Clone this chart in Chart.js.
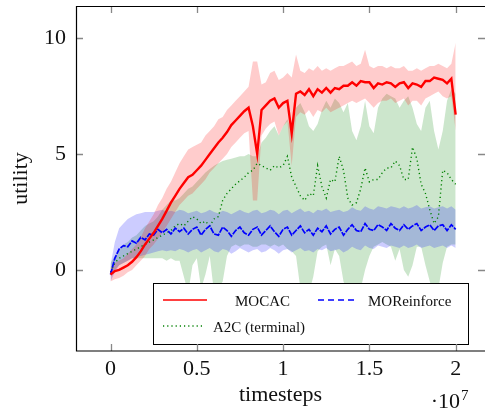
<!DOCTYPE html>
<html><head><meta charset="utf-8">
<script src="https://cdn.jsdelivr.net/npm/chart.js@4"></script>
<style>html,body{margin:0;padding:0;background:#fff;overflow:hidden}#wrap{width:485px;height:410px;position:relative}</style>
</head><body><div id="wrap"><canvas id="c" width="485" height="410"></canvas></div>
<script>
// x positions in millions of timesteps
const timestepsM = [0,0.25,0.5,0.75,1,1.25,1.5,1.75,2,2.25,2.5,2.75,3,3.25,3.5,3.75,4,4.25,4.5,4.75,5,5.25,5.5,5.75,6,6.25,6.5,6.75,7,7.25,7.5,7.75,8,8.25,8.5,8.75,9,9.25,9.5,9.75,10,10.25,10.5,10.75,11,11.25,11.5,11.75,12,12.25,12.5,12.75,13,13.25,13.5,13.75,14,14.25,14.5,14.75,15,15.25,15.5,15.75,16,16.25,16.5,16.75,17,17.25,17.5,17.75,18,18.25,18.5,18.75,19,19.25,19.5,19.75,20];

const seriesNames = ['MOCAC','MOReinforce','A2C (terminal)'];

const mocacMean = [-0.2,-0.05,0.0,0.1,0.2,0.35,0.55,0.8,1.1,1.35, 1.6,1.9,2.2,2.55,2.9,3.2,3.5,3.75,4.0,4.1, 4.3,4.5,4.75,5.0,5.25,5.5,5.7,5.95,6.25,6.45, 6.65,6.85,7.0,6.2,5.0,6.9,7.1,7.3,7.4,7.0, 7.2,7.3,5.9,7.6,7.7,7.55,7.8,7.5,7.8,7.65, 7.85,7.65,7.85,7.8,7.95,7.95,8.1,7.95,8.15,8.1, 8.1,7.85,8.05,8.0,8.1,8.05,7.9,8.05,8.1,7.85, 8.05,8.0,7.9,8.15,8.15,8.3,8.25,8.2,8.05,8.25, 6.7];
const mocacUpper = [0.1,0.3,0.4,0.5,0.7,0.9,1.1,1.4,1.8,2.1, 2.4,2.8,3.1,3.5,3.8,4.2,4.6,4.9,5.2,5.3, 5.4,5.5,5.8,6.0,6.2,6.5,6.6,6.9,7.1,7.3, 7.5,7.7,7.9,9.0,9.0,8.0,8.1,8.5,8.6,8.2, 8.3,8.5,8.3,9.3,8.6,8.5,8.7,8.6,8.8,8.6, 8.7,8.6,8.7,8.8,8.8,8.9,9.0,8.8,8.9,9.5, 8.8,8.7,8.8,8.8,8.7,8.8,8.7,8.7,8.8,8.6, 8.6,8.7,8.6,8.7,8.8,8.8,8.9,8.8,8.7,8.9, 9.8];
const mocacLower = [-0.5,-0.4,-0.35,-0.25,-0.1,0.0,0.2,0.4,0.6,0.9, 1.1,1.35,1.6,1.9,2.2,2.5,2.8,3.0,3.2,3.3, 3.5,3.7,3.9,4.2,4.4,4.6,4.8,5.0,5.3,5.5, 5.7,5.9,6.0,3.0,3.0,5.8,6.1,6.3,6.4,5.8, 6.2,6.4,4.5,6.6,6.8,6.7,6.9,6.6,6.9,6.8, 7.0,6.8,6.9,7.0,7.1,7.2,7.3,7.2,7.3,7.4, 7.2,7.0,7.2,7.3,7.3,7.4,7.2,7.3,7.4,7.1, 7.3,7.3,7.1,7.4,7.5,7.6,7.7,7.5,7.4,7.5, 6.0];

const moreinMean = [-0.2,0.5,0.9,1.05,1.0,1.25,1.15,1.4,1.3,1.55, 1.5,1.75,1.6,1.75,1.55,1.8,1.65,1.8,1.55,1.75, 1.85,1.5,1.75,1.9,1.55,1.5,1.85,1.7,1.45,1.7, 1.85,1.6,1.5,1.75,1.85,1.5,1.7,1.9,1.65,1.45, 1.75,1.85,1.5,1.7,1.9,1.6,1.75,1.5,1.8,1.65, 1.9,1.55,1.75,1.85,1.5,1.75,1.95,1.7,1.65,2.0, 1.75,1.7,1.95,1.85,1.7,2.0,1.8,1.7,1.95,1.75, 1.9,2.0,1.7,1.85,1.95,1.7,1.9,1.95,1.7,1.95, 1.75];
const moreinUpper = [0.2,1.2,1.8,2.0,2.2,2.3,2.4,2.45,2.5,2.5, 2.5,2.55,2.6,2.5,2.55,2.5,2.6,2.55,2.45,2.5, 2.55,2.45,2.5,2.6,2.5,2.45,2.55,2.5,2.4,2.5, 2.6,2.5,2.45,2.55,2.6,2.45,2.5,2.6,2.55,2.4, 2.55,2.6,2.45,2.55,2.65,2.5,2.55,2.45,2.6,2.55, 2.65,2.5,2.55,2.6,2.5,2.55,2.7,2.6,2.55,2.75, 2.65,2.6,2.75,2.7,2.65,2.75,2.7,2.65,2.75,2.65, 2.7,2.8,2.65,2.7,2.75,2.65,2.7,2.75,2.65,2.75, 2.6];
const moreinLower = [-0.5,-0.1,0.2,0.3,0.4,0.5,0.55,0.6,0.65,0.7, 0.75,0.8,0.85,0.8,0.85,0.8,0.9,0.85,0.75,0.85, 0.9,0.75,0.85,0.95,0.8,0.75,0.9,0.85,0.7,0.8, 0.95,0.85,0.75,0.85,0.9,0.75,0.8,0.95,0.85,0.7, 0.85,0.9,0.75,0.85,0.95,0.8,0.85,0.75,0.9,0.85, 0.95,0.8,0.85,0.9,0.75,0.85,1.0,0.9,0.85,1.05, 0.95,0.9,1.05,1.0,0.95,1.05,1.0,0.95,1.05,0.95, 1.0,1.1,0.95,1.0,1.05,0.95,1.0,1.05,0.95,1.05, 0.95];

const a2cMean = [-0.1,0.3,0.5,0.6,0.7,0.8,0.9,1.0,1.1,1.2, 1.3,1.4,1.5,1.6,1.7,1.9,2.0,1.9,2.1,2.3, 2.2,2.0,2.1,1.9,2.2,2.3,3.0,3.3,3.5,3.7, 3.85,4.0,4.2,4.3,4.6,4.5,4.4,4.3,4.5,4.4, 4.5,4.9,4.0,3.6,3.2,3.0,3.3,3.2,4.5,3.6, 3.1,3.9,3.8,4.9,4.3,3.1,2.8,2.9,3.5,4.4, 3.8,3.9,3.9,4.2,4.4,4.4,4.7,4.5,3.9,3.9, 5.3,4.8,3.7,3.3,2.6,2.0,2.3,4.3,4.2,3.9, 3.7];
const a2cUpper = [0.3,0.6,0.9,1.1,1.2,1.4,1.5,1.7,1.9,2.0, 2.1,2.3,2.6,2.8,3.0,3.0,3.1,3.3,3.5,3.6, 3.8,4.0,4.2,4.35,4.5,4.6,4.7,4.75,4.8,4.85, 4.9,4.9,5.0,4.9,4.9,5.5,5.7,6.0,6.2,5.8, 6.2,6.5,6.0,7.0,7.2,6.8,6.2,6.0,6.3,6.9, 7.3,7.0,7.4,7.2,6.8,7.2,6.0,5.6,6.2,7.3, 6.2,5.9,7.0,7.4,7.6,7.5,7.4,7.0,7.3,7.5, 7.0,6.3,6.0,7.0,7.3,6.0,5.2,6.0,7.3,7.8, 7.6];
const a2cLower = [-0.3,0.0,0.2,0.3,0.4,0.5,0.5,0.5,0.5,0.5, 0.5,0.5,0.5,0.4,0.5,0.4,0.4,-0.3,-1.0,0.2, 0.5,-0.8,-0.2,0.6,-1.0,-0.8,-0.5,0.6,1.0,1.1, 1.0,1.1,1.1,1.0,1.0,1.1,1.1,1.0,1.1,1.0, 1.1,0.9,0.8,0.6,-0.8,-1.2,-1.0,-0.3,0.8,1.0, 1.1,0.2,0.9,0.6,-0.5,-1.0,-1.2,-1.0,-0.8,0.0, 0.6,1.0,1.1,1.2,1.1,1.0,0.4,0.9,0.0,-0.3, 0.2,1.0,1.0,0.2,-0.5,-1.0,-0.8,0.3,1.0,1.1, 1.1];

const xTickValues = [0, 5e6, 1e7, 1.5e7, 2e7];
const xTickLabels = ['0', '0.5', '1', '1.5', '2'];
const yTickValues = [0, 5, 10];
const yTickLabels = ['0', '5', '10'];

const FONT = "'Liberation Serif', 'DejaVu Serif', serif";

function pts(ys) { return ys.map((y, i) => ({ x: timestepsM[i] * 1e6, y: y })); }

function band(data, color, fill) {
  return { data: pts(data), borderWidth: 0, borderColor: 'rgba(0,0,0,0)', backgroundColor: color, fill: fill, pointRadius: 0 };
}

const decor = {
  id: 'decor',
  afterDatasetsDraw(chart) {
    const ctx = chart.ctx;
    ctx.save();
    ctx.fillStyle = '#fff';
    ctx.fillRect(153.5, 283.5, 315, 61);
    ctx.strokeStyle = '#000';
    ctx.lineWidth = 1;
    ctx.strokeRect(153.5, 283.5, 315, 61);
    ctx.lineWidth = 1.3;
    ctx.strokeStyle = '#ff0000';
    ctx.beginPath(); ctx.moveTo(163, 300); ctx.lineTo(207, 300); ctx.stroke();
    ctx.strokeStyle = '#0000ff';
    ctx.setLineDash([6, 4]);
    ctx.beginPath(); ctx.moveTo(318, 300); ctx.lineTo(357, 300); ctx.stroke();
    ctx.strokeStyle = '#008000';
    ctx.setLineDash([1.2, 3]);
    ctx.beginPath(); ctx.moveTo(163, 326); ctx.lineTo(204, 326); ctx.stroke();
    ctx.setLineDash([]);
    ctx.fillStyle = '#111';
    ctx.font = '15px ' + FONT;
    ctx.textBaseline = 'alphabetic';
    ctx.textAlign = 'left';
    ctx.fillText(seriesNames[0], 235, 306);
    ctx.fillText(seriesNames[1], 368, 306);
    ctx.fillText(seriesNames[2], 213, 332);
    ctx.restore();
  },
  afterDraw(chart) {
    const ctx = chart.ctx;
    const a = chart.chartArea;
    const xs = chart.scales.x, ys = chart.scales.y;
    ctx.save();
    ctx.strokeStyle = '#888';
    ctx.lineWidth = 1.3;
    xTickValues.forEach(v => {
      const p = Math.round(xs.getPixelForValue(v)) + 0.5;
      ctx.beginPath();
      ctx.moveTo(p, a.bottom); ctx.lineTo(p, a.bottom - 7);
      ctx.moveTo(p, a.top); ctx.lineTo(p, a.top + 7);
      ctx.stroke();
    });
    yTickValues.forEach(v => {
      const p = Math.round(ys.getPixelForValue(v)) + 0.5;
      ctx.beginPath();
      ctx.moveTo(a.left, p); ctx.lineTo(a.left + 7, p);
      ctx.moveTo(a.right, p); ctx.lineTo(a.right - 7, p);
      ctx.stroke();
    });
    ctx.strokeStyle = '#000';
    ctx.lineWidth = 1.2;
    ctx.beginPath();
    ctx.moveTo(a.right + 2, a.top + 0.5); ctx.lineTo(a.left + 0.5, a.top + 0.5);
    ctx.lineTo(a.left + 0.5, a.bottom); ctx.lineTo(a.right + 2, a.bottom);
    ctx.stroke();
    ctx.fillStyle = '#111';
    ctx.textBaseline = 'alphabetic';
    ctx.textAlign = 'right';
    ctx.font = '22px ' + FONT;
    ctx.fillText('\u00b710', 460, 408);
    ctx.textAlign = 'left';
    ctx.font = '15px ' + FONT;
    ctx.fillText('7', 461, 400);
    ctx.restore();
  }
};

new Chart(document.getElementById('c'), {
  type: 'line',
  data: {
    datasets: [
      { label: seriesNames[0], data: pts(mocacMean), borderColor: '#ff0000', borderWidth: 2.4, pointRadius: 0, fill: false },
      { label: seriesNames[1], data: pts(moreinMean), borderColor: '#0000ff', borderWidth: 1.7, borderDash: [6, 1.2], pointRadius: 0, fill: false },
      { label: seriesNames[2], data: pts(a2cMean), borderColor: '#008000', borderWidth: 1.4, borderDash: [1.2, 3], pointRadius: 0, fill: false },
      band(mocacUpper, 'rgba(255,0,0,0.2)', '+1'),
      band(mocacLower, 'rgba(0,0,0,0)', false),
      band(moreinUpper, 'rgba(0,0,255,0.2)', '+1'),
      band(moreinLower, 'rgba(0,0,0,0)', false),
      band(a2cUpper, 'rgba(0,128,0,0.2)', '+1'),
      band(a2cLower, 'rgba(0,0,0,0)', false)
    ]
  },
  options: {
    responsive: false,
    animation: false,
    devicePixelRatio: 1,
    layout: { padding: { top: 6, right: 0, left: 0, bottom: 0 } },
    elements: { line: { tension: 0 } },
    plugins: { legend: { display: false }, tooltip: { enabled: false } },
    scales: {
      x: {
        type: 'linear',
        min: -2e6,
        max: 2.17e7,
        grid: { display: false, drawTicks: false },
        border: { display: false },
        afterBuildTicks: s => { s.ticks = xTickValues.map(v => ({ value: v })); },
        afterFit: s => { s.height = 59; s.paddingLeft = 0; s.paddingRight = 0; },
        ticks: {
          autoSkip: false, maxRotation: 0,
          callback: (v) => xTickLabels[xTickValues.indexOf(v)],
          font: { family: FONT, size: 22 }, color: '#111', padding: 5
        },
        title: { display: true, text: 'timesteps', font: { family: FONT, size: 22 }, color: '#111', padding: { top: 0, bottom: 2 } }
      },
      y: {
        type: 'linear',
        min: -3.5,
        max: 11.39,
        grid: { display: false, drawTicks: false },
        border: { display: false },
        afterBuildTicks: s => { s.ticks = yTickValues.map(v => ({ value: v })); },
        afterFit: s => { s.width = 76; s.paddingTop = 0; s.paddingBottom = 0; },
        ticks: {
          autoSkip: false,
          callback: (v) => yTickLabels[yTickValues.indexOf(v)],
          font: { family: FONT, size: 22 }, color: '#111', padding: 10
        },
        title: { display: true, text: 'utility', font: { family: FONT, size: 22 }, color: '#111', padding: { top: 8, bottom: 0 } }
      }
    }
  },
  plugins: [decor]
});
</script>
</body></html>
